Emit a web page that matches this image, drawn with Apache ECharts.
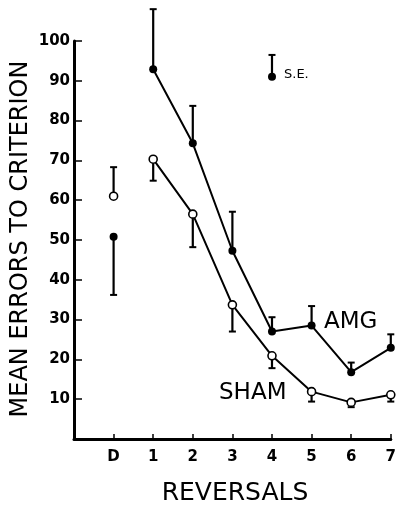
<!DOCTYPE html>
<html>
<head>
<meta charset="utf-8">
<script src="https://cdn.jsdelivr.net/npm/echarts@6/dist/echarts.min.js"></script>
<style>
html,body{margin:0;padding:0;background:#fff;}
#c{width:399px;height:506px;}
</style>
</head>
<body>
<div id="c"></div>
<script>
// x positions: D = 0, reversals 1..7
const categories = ['D', '1', '2', '3', '4', '5', '6', '7'];
const amgMean = [50.8, 92.9, 74.3, 47.3, 27.0, 28.5, 16.8, 22.9];
const amgSEEnd = [36.2, 108, 83.7, 57.1, 30.6, 33.4, 19.2, 26.3];
const shamMean = [61.0, 70.3, 56.5, 33.7, 20.9, 11.9, 9.2, 11.1];
const shamSEEnd = [68.3, 64.9, 48.2, 27.0, 17.8, 9.4, 8.0, 9.4];
const yTicks = [10, 20, 30, 40, 50, 60, 70, 80, 90, 100];
const seLegend = [4, 91, 96.5];

const FONT = 'DejaVu Sans';
const chart = echarts.init(document.getElementById('c'), null, {renderer: 'canvas'});

function pts(arr, from) {
  const out = [];
  for (let i = from; i < arr.length; i++) out.push([i, arr[i]]);
  return out;
}
function errData(mean, end) {
  return mean.map((m, i) => [i, m, end[i]]);
}
function errRender(params, api) {
  const x = api.value(0);
  const p0 = api.coord([x, api.value(1)]);
  const p1 = api.coord([x, api.value(2)]);
  const cw = 3.5;
  return {
    type: 'group',
    children: [
      {type: 'line', shape: {x1: p0[0], y1: p0[1], x2: p1[0], y2: p1[1]}, style: {stroke: '#000', lineWidth: 2.2}},
      {type: 'line', shape: {x1: p1[0] - cw, y1: p1[1], x2: p1[0] + cw, y2: p1[1]}, style: {stroke: '#000', lineWidth: 2}}
    ]
  };
}

const option = {
  backgroundColor: '#fff',
  animation: false,
  grid: {left: 74, right: 6, top: 41, bottom: 67, containLabel: false},
  xAxis: {
    type: 'value', min: -1, max: 7, interval: 1,
    axisLine: {show: true, onZero: false, lineStyle: {color: '#000', width: 3}},
    axisTick: {show: true, inside: true, length: 5, lineStyle: {color: '#000', width: 1.5}},
    splitLine: {show: false},
    axisLabel: {
      margin: 11, color: '#000', fontFamily: FONT, fontSize: 15, fontWeight: 'bold',
      formatter: v => (v >= 0 ? categories[v] : '')
    }
  },
  yAxis: {
    type: 'value', min: 0, max: 100, interval: 10,
    axisLine: {show: true, onZero: false, lineStyle: {color: '#000', width: 3}},
    axisTick: {show: true, inside: true, length: 8, lineStyle: {color: '#000', width: 1.5}},
    splitLine: {show: false},
    axisLabel: {
      margin: 4, color: '#000', fontFamily: FONT, fontSize: 15, fontWeight: 'bold',
      formatter: v => (yTicks.indexOf(v) >= 0 ? String(v) : '')
    }
  },
  series: [
    {type: 'custom', renderItem: errRender, data: errData(amgMean, amgSEEnd), clip: false, z: 2},
    {type: 'custom', renderItem: errRender, data: errData(shamMean, shamSEEnd), clip: false, z: 2},
    {type: 'custom', renderItem: errRender, data: [[seLegend[0], seLegend[1], seLegend[2]]], clip: false, z: 2},
    {type: 'line', data: pts(amgMean, 1), symbol: 'circle', symbolSize: 8,
     lineStyle: {color: '#000', width: 2}, itemStyle: {color: '#000', borderColor: '#000', borderWidth: 0, opacity: 1}, z: 3},
    {type: 'line', data: pts(shamMean, 1), symbol: 'circle', symbolSize: 8,
     lineStyle: {color: '#000', width: 2}, itemStyle: {color: '#fff', borderColor: '#000', borderWidth: 1.6, opacity: 1}, z: 3},
    {type: 'scatter', data: [[0, amgMean[0]], [seLegend[0], seLegend[1]]], symbol: 'circle', symbolSize: 8,
     itemStyle: {color: '#000', borderWidth: 0, opacity: 1}, z: 4},
    {type: 'scatter', data: [[0, shamMean[0]]], symbol: 'circle', symbolSize: 8,
     itemStyle: {color: '#fff', borderColor: '#000', borderWidth: 1.6, opacity: 1}, z: 4}
  ],
  graphic: [
    {type: 'text', x: 21, y: 239, rotation: Math.PI / 2,
     style: {text: 'MEAN ERRORS TO CRITERION', fill: '#000', font: '24px "DejaVu Sans"', textAlign: 'center', textVerticalAlign: 'middle'}},
    {type: 'text', x: 235, y: 493,
     style: {text: 'REVERSALS', fill: '#000', font: '25px "DejaVu Sans"', textAlign: 'center', textVerticalAlign: 'middle'}},
    {type: 'text', x: 324, y: 322,
     style: {text: 'AMG', fill: '#000', font: '23px "DejaVu Sans"', textAlign: 'left', textVerticalAlign: 'middle'}},
    {type: 'text', x: 219, y: 393,
     style: {text: 'SHAM', fill: '#000', font: '23px "DejaVu Sans"', textAlign: 'left', textVerticalAlign: 'middle'}},
    {type: 'text', x: 284, y: 75,
     style: {text: 'S.E.', fill: '#000', font: '13px "DejaVu Sans"', textAlign: 'left', textVerticalAlign: 'middle'}}
  ]
};
chart.setOption(option);
</script>
</body>
</html>
